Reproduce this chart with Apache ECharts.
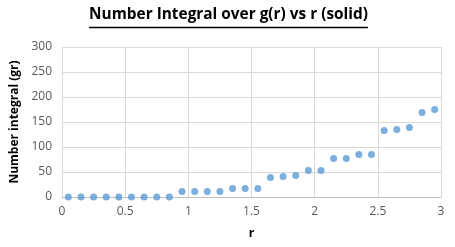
<!DOCTYPE html>
<html><head><meta charset="utf-8">
<script src="https://cdn.jsdelivr.net/npm/echarts@6/dist/echarts.min.js"></script>
<style>html,body{margin:0;padding:0;background:#fff}#c{width:455px;height:247px}</style>
</head><body><div id="c"></div>
<script>
const rValues = [0.05,0.15,0.25,0.35,0.45,0.55,0.65,0.75,0.85,0.95,1.05,1.15,1.25,1.35,1.45,1.55,1.65,1.75,1.85,1.95,2.05,2.15,2.25,2.35,2.45,2.55,2.65,2.75,2.85,2.95];
const grValues = [0,0,0,0,0,0,0,0,0,11,11,11,11,17,17,17,39,41,43,53,53,77,77,85,85,133,135,139,169,175];
const xTicks = {min:0, max:3, interval:0.5};
const yTicks = {min:0, max:300, interval:50};
const titleText = 'Number Integral over g(r) vs r (solid)';

const titleFont = 'bold 15.4px "Open Sans"';
const cv = document.createElement('canvas').getContext('2d');
cv.font = titleFont;
const tw = cv.measureText(titleText).width;
const cx = 228.5;

const chart = echarts.init(document.getElementById('c'), null, {renderer:'canvas'});
chart.setOption({
  animation:false,
  backgroundColor:'#fff',
  graphic:[
    {type:'text', x:cx, y:7, style:{text:titleText, font:titleFont, fill:'#000', align:'center', verticalAlign:'top'}},
    {type:'line', shape:{x1:cx-tw/2,y1:27.5,x2:cx+tw/2,y2:27.5}, style:{stroke:'#000', lineWidth:1.3}}
  ],
  grid:{left:62, right:14, top:47, bottom:50},
  xAxis:{type:'value', min:xTicks.min, max:xTicks.max, interval:xTicks.interval,
    name:'r', nameLocation:'middle', nameGap:31,
    nameTextStyle:{fontFamily:'Open Sans', fontWeight:'bold', fontSize:12, color:'#000'},
    axisLine:{show:true, lineStyle:{color:'#bfbfbf'}}, axisTick:{show:false},
    axisLabel:{color:'#595959', fontFamily:'Open Sans', fontSize:12, margin:9},
    splitLine:{show:true, lineStyle:{color:'#d9d9d9'}}},
  yAxis:{type:'value', min:yTicks.min, max:yTicks.max, interval:yTicks.interval,
    name:'Number integral (gr)', nameLocation:'middle', nameGap:37,
    nameTextStyle:{fontFamily:'Open Sans', fontWeight:'bold', fontSize:12, color:'#000'},
    axisLine:{show:false}, axisTick:{show:false},
    axisLabel:{color:'#595959', fontFamily:'Open Sans', fontSize:12, margin:10},
    splitLine:{show:true, lineStyle:{color:'#d9d9d9'}}},
  series:[{type:'scatter', symbol:'circle', symbolSize:7,
    itemStyle:{color:'#5b9bd5'},
    data:rValues.map((r,i)=>[r, grValues[i]])}]
});
</script></body></html>
